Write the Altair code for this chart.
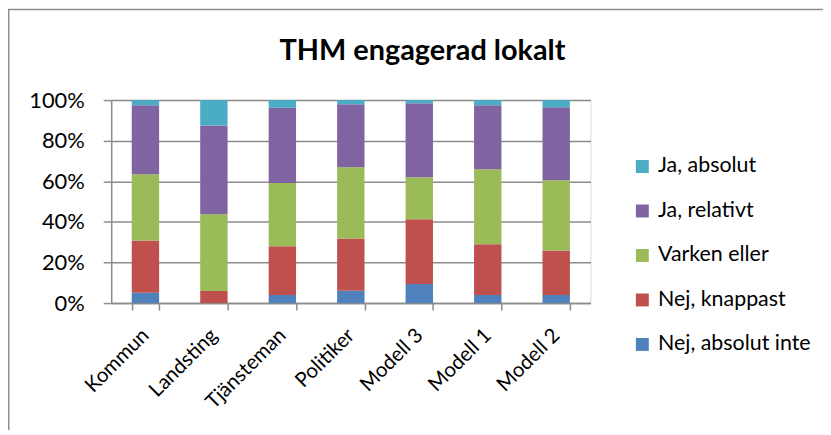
import altair as alt
import pandas as pd

categories = ["Kommun", "Landsting", "Tjänsteman", "Politiker", "Modell 3", "Modell 1", "Modell 2"]
series = ["Nej, absolut inte", "Nej, knappast", "Varken eller", "Ja, relativt", "Ja, absolut"]
nej_absolut_inte = [5.1, 0.0, 4.0, 6.1, 9.4, 4.0, 4.0]
nej_knappast = [25.7, 6.0, 24.0, 25.7, 31.9, 25.0, 21.9]
varken_eller = [32.7, 37.7, 31.1, 35.1, 20.7, 36.9, 34.6]
ja_relativt = [33.9, 43.8, 37.1, 31.0, 36.4, 31.6, 36.0]
ja_absolut = [2.6, 12.5, 3.8, 2.1, 1.6, 2.5, 3.5]
series_colors = ["#4F81BD", "#C0504D", "#9BBB59", "#8064A2", "#4BACC6"]

values = [nej_absolut_inte, nej_knappast, varken_eller, ja_relativt, ja_absolut]
rows = []
for si, (s, vals) in enumerate(zip(series, values)):
    for c, v in zip(categories, vals):
        rows.append({"kategori": c, "svar": s, "andel": v, "ordning": si})
df = pd.DataFrame(rows)

FONT = "Lato"
GRID = "#8c8c8c"

legend_domain = series[::-1]
legend_range = series_colors[::-1]

bars = alt.Chart(df).mark_bar().encode(
    x=alt.X("kategori:N", sort=categories, title=None,
            scale=alt.Scale(paddingInner=0.6, paddingOuter=0.3),
            axis=alt.Axis(labelAngle=-45, labelAlign="right", labelBaseline="middle",
                          labelFont=FONT, labelFontSize=20.5,
                          labelColor="black", tickBand="extent", tickSize=7,
                          tickColor=GRID, tickWidth=1.5, domainColor=GRID,
                          domainWidth=1.5, labelPadding=22, grid=False)),
    y=alt.Y("andel:Q", stack="normalize", title=None,
            scale=alt.Scale(domain=[0, 1]),
            axis=alt.Axis(values=[0, 0.2, 0.4, 0.6, 0.8, 1.0], format=".0%",
                          labelFont=FONT, labelFontSize=22, labelColor="black",
                          tickSize=8, tickColor=GRID, tickWidth=1.5,
                          domainColor=GRID, domainWidth=1.5, labelPadding=19,
                          grid=True, gridColor=GRID, gridWidth=1.5)),
    color=alt.Color("svar:N",
                    scale=alt.Scale(domain=legend_domain, range=legend_range),
                    legend=alt.Legend(title=None, orient="none", legendX=523,
                                      legendY=56, symbolType="square",
                                      symbolSize=169, symbolStrokeWidth=0,
                                      symbolOpacity=1, labelFont=FONT,
                                      labelFontSize=21.5, labelColor="black",
                                      rowPadding=21.7, labelOffset=5)),
    order=alt.Order("ordning:Q", sort="ascending"),
)

frame = alt.Chart(pd.DataFrame({"f": [0]})).mark_rect(
    filled=False, stroke="#8c8c8c", strokeWidth=1.5
).encode(
    x=alt.value(-103), x2=alt.value(1200), y=alt.value(-91), y2=alt.value(1200)
)

chart = alt.layer(frame, bars).properties(
    width=481.6,
    height=204,
    autosize=alt.AutoSizeParams(type="none"),
    padding={"left": 103.7, "top": 91.5, "right": 233.7, "bottom": 126.5},
    title=alt.TitleParams("THM engagerad lokalt", font=FONT, fontSize=29,
                          fontWeight="bold", color="black", anchor="middle",
                          dx=72, offset=-57),
).configure_view(stroke=None).configure(background="white")

chart.save("out.html", embed_options={"renderer": "svg", "actions": False})
